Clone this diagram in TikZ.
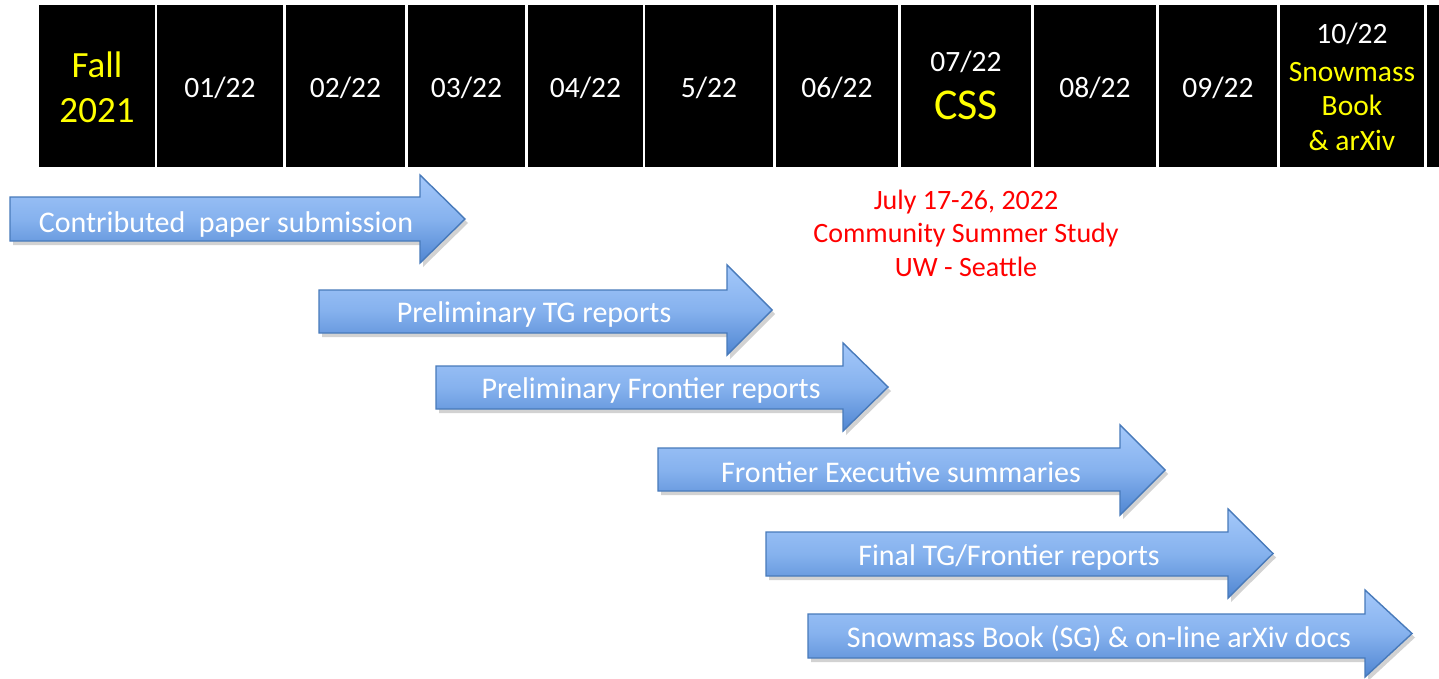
\documentclass[tikz,border=0pt]{standalone}
\usepackage{fontspec}
\setmainfont{Carlito}
\usetikzlibrary{shadows}
\definecolor{arrtop}{RGB}{164,200,250}
\definecolor{arrmid}{RGB}{134,178,238}
\definecolor{arrbot}{RGB}{80,134,210}
\definecolor{arrline}{RGB}{72,122,186}
\definecolor{yel}{RGB}{255,255,0}
\definecolor{redtxt}{RGB}{255,0,0}
\tikzset{
  cellbox/.style={fill=black, draw=none, inner sep=0pt, minimum height=162pt},
  celltxt/.style={anchor=base, text=white, inner sep=0pt, font=\fontsize{29.5}{36}\selectfont},
  yeltxt/.style={anchor=base, text=yel, inner sep=0pt},
  arrowshape/.style={draw=arrline, line width=1.4pt, line join=miter,
     top color=arrtop, bottom color=arrbot, middle color=arrmid,
     drop shadow={shadow xshift=3pt, shadow yshift=-4pt, opacity=0.25, fill=black!70}},
  lbl/.style={anchor=base, text=white, inner sep=0pt, font=\fontsize{30}{36}\selectfont},
  rtxt/.style={anchor=base, text=redtxt, inner sep=0pt, font=\fontsize{28}{34}\selectfont}
}
\newcommand\mkcell[3]{\node[cellbox, minimum width={#3pt-#2pt}] (#1) at ({(#2+#3)/2},86) {};}
\newcommand\blockarrow[8]{%
  \path[arrowshape] (#2,#5) -- (#3,#5) -- (#3,#7) -- (#4,{(#7+#8)/2}) -- (#3,#8) -- (#3,#6) -- (#2,#6) -- cycle;
  \coordinate (#1) at ({(#2+#4)/2},{(#5+#6)/2});}
\begin{document}
\begin{tikzpicture}[x=1pt,y=-1pt]
\useasboundingbox (0,0) rectangle (1439,679);
\fill[white] (0,0) rectangle (1439,679);
% header cells
\mkcell{c1}{39}{155}
\mkcell{c2}{157}{283}
\mkcell{c3}{286}{405}
\mkcell{c4}{408}{525}
\mkcell{c5}{528}{643}
\mkcell{c6}{645}{773}
\mkcell{c7}{776}{898}
\mkcell{c8}{901}{1031}
\mkcell{c9}{1034}{1156}
\mkcell{c10}{1159}{1277}
\mkcell{c11}{1280}{1424}
\mkcell{c12}{1427}{1439}
% header texts
\node[yeltxt, font=\fontsize{37}{44}\selectfont] (t1a) at (97,78) {Fall};
\node[yeltxt, font=\fontsize{37}{44}\selectfont] (t1b) at (97,123) {2021};
\node[celltxt] (t2) at (220,98) {01/22};
\node[celltxt] (t3) at (345.5,98) {02/22};
\node[celltxt] (t4) at (466.5,98) {03/22};
\node[celltxt] (t5) at (585.5,98) {04/22};
\node[celltxt] (t6) at (709,98) {5/22};
\node[celltxt] (t7) at (837,98) {06/22};
\node[celltxt] (t8a) at (966,72) {07/22};
\node[yeltxt, font=\fontsize{44}{50}\selectfont] (t8b) at (966,120) {CSS};
\node[celltxt] (t9) at (1095,98) {08/22};
\node[celltxt] (t10) at (1218,98) {09/22};
\node[celltxt] (t11a) at (1352,44) {10/22};
\node[yeltxt, font=\fontsize{29.5}{35}\selectfont] (t11b) at (1352,82) {Snowmass};
\node[yeltxt, font=\fontsize{29.5}{35}\selectfont] (t11c) at (1352,116) {Book};
\node[yeltxt, font=\fontsize{29.5}{35}\selectfont] (t11d) at (1352,151) {\&\ arXiv};
% red annotation
\node[rtxt] (r1) at (966,209) {July 17-26, 2022};
\node[rtxt] (r2) at (966,242) {Community Summer Study};
\node[rtxt] (r3) at (966,276) {UW - Seattle};
% arrows
\blockarrow{a1}{10}{420}{465}{197}{241}{175}{263}
\blockarrow{a2}{319}{727}{772}{290}{333}{265}{355}
\blockarrow{a3}{436}{843}{888}{366}{409}{343}{431}
\blockarrow{a4}{658}{1120}{1165}{448}{491}{425}{515}
\blockarrow{a5}{766}{1228}{1273}{532}{576}{509}{598}
\blockarrow{a6}{808}{1365}{1412}{614}{658}{590}{677}
% arrow labels
\node[lbl] (l1) at (226,232) {Contributed\ \ paper submission};
\node[lbl] (l2) at (534,322) {Preliminary TG reports};
\node[lbl] (l3) at (651,398) {Preliminary Frontier reports};
\node[lbl] (l4) at (901,482) {Frontier Executive summaries};
\node[lbl] (l5) at (1009,565) {Final TG/Frontier reports};
\node[lbl] (l6) at (1099,647) {Snowmass Book (SG) \&\ on-line arXiv docs};
\end{tikzpicture}
\end{document}
